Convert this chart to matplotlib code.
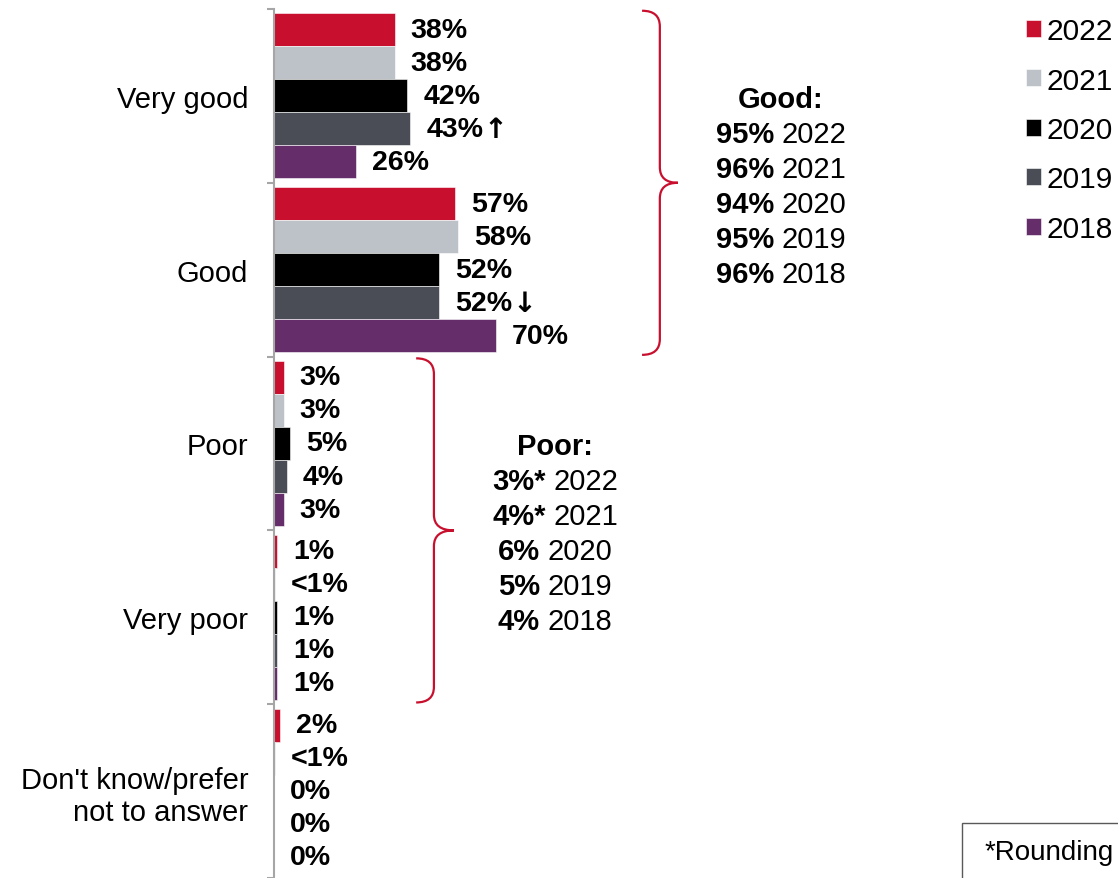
import matplotlib
matplotlib.use("Agg")
import matplotlib.pyplot as plt
import numpy as np
from matplotlib.path import Path
from matplotlib.patches import PathPatch, Rectangle
from matplotlib.offsetbox import TextArea, HPacker, AnnotationBbox

plt.rcParams['font.family'] = ['Liberation Sans', 'DejaVu Sans']

categories = ["Very good", "Good", "Poor", "Very poor", "Don't know/prefer\nnot to answer"]
years = ["2022", "2021", "2020", "2019", "2018"]
colors = ["#C8102E", "#BCC2C8", "#000000", "#4A4D55", "#662D6B"]

# values per year for each category
v2022 = [38, 57, 3, 1, 2]
v2021 = [38, 58, 3, 0.3, 0.3]
v2020 = [42, 52, 5, 1, 0]
v2019 = [43, 52, 4, 1, 0]
v2018 = [26, 70, 3, 1, 0]
values = [v2022, v2021, v2020, v2019, v2018]

l2022 = ["38%", "57%", "3%", "1%", "2%"]
l2021 = ["38%", "58%", "3%", "<1%", "<1%"]
l2020 = ["42%", "52%", "5%", "1%", "0%"]
l2019 = ["43%", "52%", "4%", "1%", "0%"]
l2018 = ["26%", "70%", "3%", "1%", "0%"]
labels = [l2022, l2021, l2020, l2019, l2018]

# significant change markers (2019 vs previous)
t2019 = ["\u2191", "\u2193", "", "", ""]

good_net = ["95%", "96%", "94%", "95%", "96%"]
poor_net = ["3%*", "4%*", "6%", "5%", "4%"]

FS = 21
FSV = 20.5
RED = "#C8102E"

fig = plt.figure(figsize=(11.18, 8.79), dpi=100)
ax = fig.add_axes([274 / 1118, 0, (1118 - 274) / 1118, 869 / 879])

y = np.arange(len(categories))
h = 0.19
bars = []
for j, yr in enumerate(years):
    b = ax.barh(y + (j - 2) * h, values[j], height=h, color=colors[j],
                edgecolor="white", linewidth=0.4, label=yr)
    bars.append(b)
    for i in range(len(categories)):
        t = ax.text(values[j][i] + 5, y[i] + (j - 2) * h, labels[j][i],
                    ha="left", va="center", fontsize=FSV, fontweight="bold")
        if j == 3 and t2019[i]:
            ax.annotate(t2019[i], xy=(1, 0.5), xycoords=t, ha="left", va="center",
                        fontsize=FSV, fontweight="bold", family="DejaVu Sans")

ax.set_xlim(0, 844 / 3.173)
ax.set_ylim(4.5, -0.5)
ax.xaxis.set_visible(False)
for s in ["top", "right", "bottom"]:
    ax.spines[s].set_visible(False)
ax.spines["left"].set_color("#A6A6A6")
ax.spines["left"].set_linewidth(1.5)
ax.set_yticks(y)
ax.set_yticklabels(categories, fontsize=FS)
ax.tick_params(axis="y", which="major", length=0, pad=18.5)
ax.set_yticks(np.arange(-0.5, 5, 1), minor=True)
ax.tick_params(axis="y", which="minor", length=5, width=1.5, color="#A6A6A6")


def brace(x0, x1, x2, ytop, ybot, r=0.09):
    ymid = (ytop + ybot) / 2
    verts = [(x0, ytop), (x1, ytop), (x1, ytop + r),
             (x1, ymid - r), (x1, ymid), (x2, ymid),
             (x1, ymid), (x1, ymid + r),
             (x1, ybot - r), (x1, ybot), (x0, ybot)]
    codes = [Path.MOVETO, Path.CURVE3, Path.CURVE3,
             Path.LINETO, Path.CURVE3, Path.CURVE3,
             Path.CURVE3, Path.CURVE3,
             Path.LINETO, Path.CURVE3, Path.CURVE3]
    ax.add_patch(PathPatch(Path(verts, codes), fill=False, edgecolor=RED,
                           linewidth=1.6, clip_on=False))


brace(116, 121.6, 127.3, -0.49, 1.49)
brace(44.8, 50.4, 56.7, 1.51, 3.49)


def row(parts, xc, yc):
    kids = []
    for txt, bold in parts:
        kids.append(TextArea(txt, textprops=dict(fontsize=FS,
                                                 fontweight="bold" if bold else "normal")))
    box = HPacker(children=kids, sep=5.5, pad=0, align="baseline")
    ab = AnnotationBbox(box, (xc, yc), xycoords="data", frameon=False,
                        box_alignment=(0.5, 0.5), pad=0, annotation_clip=False)
    ax.add_artist(ab)


step = 0.2014
row([("Good:", True)], 159.8, 0.015)
for k, yr in enumerate(years):
    row([(good_net[k], True), (yr, False)], 159.8, 0.015 + step * (k + 1))
row([("Poor:", True)], 88.6, 2.015)
for k, yr in enumerate(years):
    row([(poor_net[k], True), (yr, False)], 88.6, 2.015 + step * (k + 1))

ax.legend(handles=bars, labels=years, loc="upper left",
          bbox_to_anchor=(1026 / 1118, 1 - 18 / 879), bbox_transform=fig.transFigure,
          frameon=False, fontsize=21.5, handlelength=0.5, handleheight=0.5,
          handletextpad=0.2, labelspacing=0.72, borderpad=0, borderaxespad=0)

fig.patches.append(Rectangle((962 / 1118, -0.1), 0.3, 0.1 + (1 - 824 / 879),
                             transform=fig.transFigure, facecolor="white",
                             edgecolor="#595959", linewidth=1.0))
fig.text(985 / 1118, 1 - 853 / 879, "*Rounding", fontsize=20, va="center", ha="left")

fig.savefig("out.png", dpi=100)
